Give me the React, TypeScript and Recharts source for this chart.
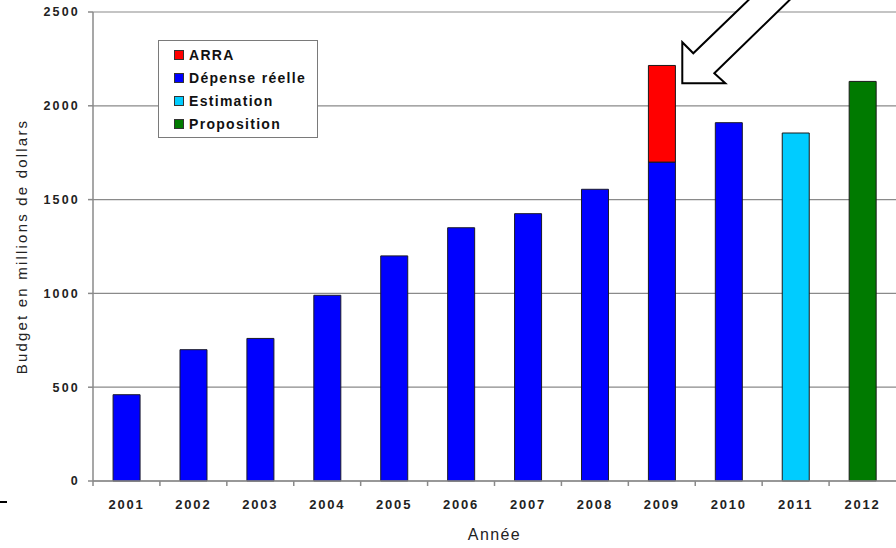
import React from "react";
import {
  BarChart,
  Bar,
  XAxis,
  YAxis,
  CartesianGrid,
  Legend,
  ReferenceDot,
} from "recharts";

const years = ["2001", "2002", "2003", "2004", "2005", "2006", "2007", "2008", "2009", "2010", "2011", "2012"];
const depense = [460, 700, 760, 990, 1200, 1350, 1425, 1555, 1700, 1910, null, null];
const arra = [null, null, null, null, null, null, null, null, 515, null, null, null];
const estimation = [null, null, null, null, null, null, null, null, null, null, 1855, null];
const proposition = [null, null, null, null, null, null, null, null, null, null, null, 2130];
const yTicks = [0, 500, 1000, 1500, 2000, 2500];

const legendItems = [
  { label: "ARRA", color: "#ff0000" },
  { label: "Dépense réelle", color: "#0000ff" },
  { label: "Estimation", color: "#00ccff" },
  { label: "Proposition", color: "#007a00" },
];

const data = years.map((year, i) => ({
  year,
  depense: depense[i],
  arra: arra[i],
  estimation: estimation[i],
  proposition: proposition[i],
}));

const W = 896;
const H = 548;
const AXIS_W = 93;
const HALF_BAND = (W - AXIS_W) / years.length / 2;
const FONT = "'Liberation Sans', Arial, sans-serif";
const GRID = "#8a8a8a";

const XTick = (props: any) => {
  const { x, y, payload } = props;
  return (
    <g>
      <line x1={x - HALF_BAND} y1={y} x2={x - HALF_BAND} y2={y + 5} stroke={GRID} strokeWidth={1.5} />
      <text
        x={x}
        y={y + 28}
        textAnchor="middle"
        fontFamily={FONT}
        fontWeight="bold"
        fontSize={13}
        letterSpacing={1.8}
        fill="#222"
      >
        {payload.value}
      </text>
    </g>
  );
};

const Arrow = (props: any) => {
  const { cx, cy } = props;
  const tx = cx + 20.5;
  const ty = cy;
  const pts = [
    [0, 0],
    [0, -41],
    [11, -30],
    [95, -111],
    [146, -121],
    [32, -10],
    [43, 0],
  ]
    .map(([dx, dy]) => `${tx + dx},${ty + dy}`)
    .join(" ");
  return <polygon points={pts} fill="#fff" stroke="#000" strokeWidth={2} strokeLinejoin="miter" />;
};

const LegendBox = () => (
  <div
    style={{
      width: 158,
      height: 94,
      border: "1px solid #7a7a7a",
      background: "#fff",
      boxSizing: "content-box",
      paddingTop: 2,
    }}
  >
    {legendItems.map((item) => (
      <div
        key={item.label}
        style={{
          display: "flex",
          alignItems: "center",
          height: 23,
          paddingLeft: 15,
          fontFamily: FONT,
          fontWeight: "bold",
          fontSize: 14,
          letterSpacing: 1.3,
          color: "#111",
        }}
      >
        <span
          style={{
            display: "inline-block",
            width: 8,
            height: 8,
            background: item.color,
            border: "1px solid #333",
            marginRight: 5,
          }}
        />
        {item.label}
      </div>
    ))}
  </div>
);

export default function App() {
  return (
    <div style={{ position: "absolute", left: 0, top: 0, width: W, height: H, background: "#fff", overflow: "hidden" }}>
      <BarChart
        width={W}
        height={H}
        data={data}
        margin={{ top: 12, right: 0, left: 0, bottom: 0 }}
        barCategoryGap="30%"
      >
        <CartesianGrid vertical={false} stroke={GRID} strokeWidth={1.2} />
        <XAxis
          dataKey="year"
          height={67}
          stroke={GRID}
          strokeWidth={1.5}
          tickLine={false}
          tickSize={0}
          tickMargin={0}
          tick={<XTick />}
          interval={0}
          label={{
            value: "Année",
            position: "insideBottom",
            offset: 8,
            style: { fontFamily: FONT, fontSize: 16, letterSpacing: 1.4, fill: "#222" },
          }}
        />
        <YAxis
          width={AXIS_W}
          domain={[0, 2500]}
          ticks={yTicks}
          interval={0}
          stroke={GRID}
          strokeWidth={1.5}
          tickSize={5}
          tickMargin={8}
          tick={{ fontFamily: FONT, fontWeight: "bold", fontSize: 12.5, letterSpacing: 2.2, fill: "#222" }}
          label={{
            value: "Budget en millions de dollars",
            angle: -90,
            position: "insideLeft",
            offset: 22,
            style: { textAnchor: "middle", fontFamily: FONT, fontSize: 15, letterSpacing: 2.2, fill: "#222" },
          }}
        />
        <Legend
          verticalAlign="middle"
          align="center"
          content={<LegendBox />}
          wrapperStyle={{ position: "absolute", top: 40, left: 158, width: 160, height: 96 }}
        />
        <Bar dataKey="depense" stackId="a" fill="#0000ff" stroke="#1a1a2a" strokeWidth={1} isAnimationActive={false} />
        <Bar dataKey="arra" stackId="a" fill="#ff0000" stroke="#1a1a1a" strokeWidth={1} isAnimationActive={false} />
        <Bar dataKey="estimation" stackId="a" fill="#00ccff" stroke="#1a1a1a" strokeWidth={1} isAnimationActive={false} />
        <Bar dataKey="proposition" stackId="a" fill="#007a00" stroke="#1a1a1a" strokeWidth={1} isAnimationActive={false} />
        <ReferenceDot x="2009" y={2120} r={0} ifOverflow="visible" shape={<Arrow />} />
      </BarChart>
      <div style={{ position: "absolute", left: 0, top: 501, width: 7, height: 1.5, background: "#000" }} />
    </div>
  );
}
